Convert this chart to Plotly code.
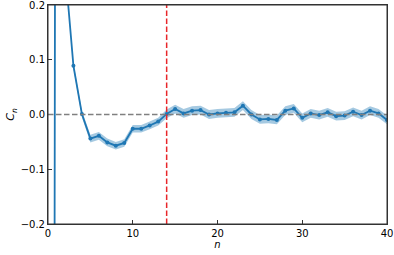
import plotly.graph_objects as go

n_vals = list(range(0, 41))
c_vals = [-8.0, 2.0, 0.27, 0.089, 0.001, -0.044, -0.039, -0.051, -0.057, -0.052,
          -0.026, -0.026, -0.020, -0.013, 0.001, 0.010, 0.002, 0.007, 0.008, 0.000,
          0.002, 0.003, 0.004, 0.016, 0.000, -0.009, -0.008, -0.010, 0.007, 0.011,
          -0.006, 0.002, -0.001, 0.004, -0.003, -0.002, 0.005, -0.001, 0.007, 0.002,
          -0.010]
err_vals = [0.0, 0.0, 0.0, 0.005, 0.006, 0.007, 0.007, 0.007, 0.007, 0.007,
            0.007, 0.007, 0.007, 0.007, 0.008, 0.008, 0.008, 0.008, 0.008, 0.008,
            0.008, 0.008, 0.008, 0.008, 0.008, 0.008, 0.008, 0.008, 0.008, 0.008,
            0.008, 0.008, 0.008, 0.008, 0.008, 0.008, 0.008, 0.008, 0.008, 0.008,
            0.008]
y_ticks = [-0.2, -0.1, 0.0, 0.1, 0.2]
y_tick_text = ["\u22120.2", "\u22120.1", "0.0", "0.1", "0.2"]
x_ticks = [0, 10, 20, 30, 40]
vline_n = 14

blue = "#1f77b4"
upper = [c + e for c, e in zip(c_vals, err_vals)]
lower = [c - e for c, e in zip(c_vals, err_vals)]

fig = go.Figure()
fig.add_trace(go.Scatter(x=n_vals, y=upper, mode="lines", line=dict(width=0),
                         showlegend=False, hoverinfo="skip"))
fig.add_trace(go.Scatter(x=n_vals, y=lower, mode="lines", line=dict(width=0),
                         fill="tonexty", fillcolor="rgba(31,119,180,0.4)",
                         showlegend=False, hoverinfo="skip"))
fig.add_trace(go.Scatter(x=n_vals, y=c_vals, mode="lines+markers",
                         line=dict(color=blue, width=1.8),
                         marker=dict(color=blue, size=4),
                         cliponaxis=True, showlegend=False))

fig.add_hline(y=0, line=dict(color="gray", width=1.5, dash="5.5px,2.5px"))
fig.add_vline(x=vline_n, line=dict(color="#e8262a", width=1.5, dash="5.5px,2.5px"))
fig.add_shape(type="rect", xref="paper", yref="paper", x0=0, x1=1, y0=0, y1=1,
              line=dict(color="#333", width=1), layer="above")

axis_common = dict(showgrid=False, zeroline=False, showline=True, linecolor="#333",
                   linewidth=1, mirror=True, ticks="inside", ticklen=4,
                   ticklabeloverflow="allow",
                   tickcolor="#333", tickfont=dict(family="DejaVu Sans", size=10, color="black"))
fig.update_xaxes(range=[0, 40], tickvals=x_ticks,
                 title=dict(text="<i>n</i>", font=dict(family="DejaVu Sans", size=10), standoff=2),
                 **axis_common)
fig.update_yaxes(range=[-0.2, 0.2], tickvals=y_ticks, ticktext=y_tick_text,
                 title=dict(text="<i>C<sub>n</sub></i>", font=dict(family="DejaVu Sans", size=11), standoff=3),
                 **axis_common)
fig.update_layout(width=394, height=255, margin=dict(l=48, r=7, t=5, b=31, autoexpand=False),
                  plot_bgcolor="white", paper_bgcolor="white",
                  font=dict(family="DejaVu Sans", size=10, color="black"))
fig.write_html("out.html", config={"displayModeBar": False},
               post_script="document.body.style.margin='0';")
